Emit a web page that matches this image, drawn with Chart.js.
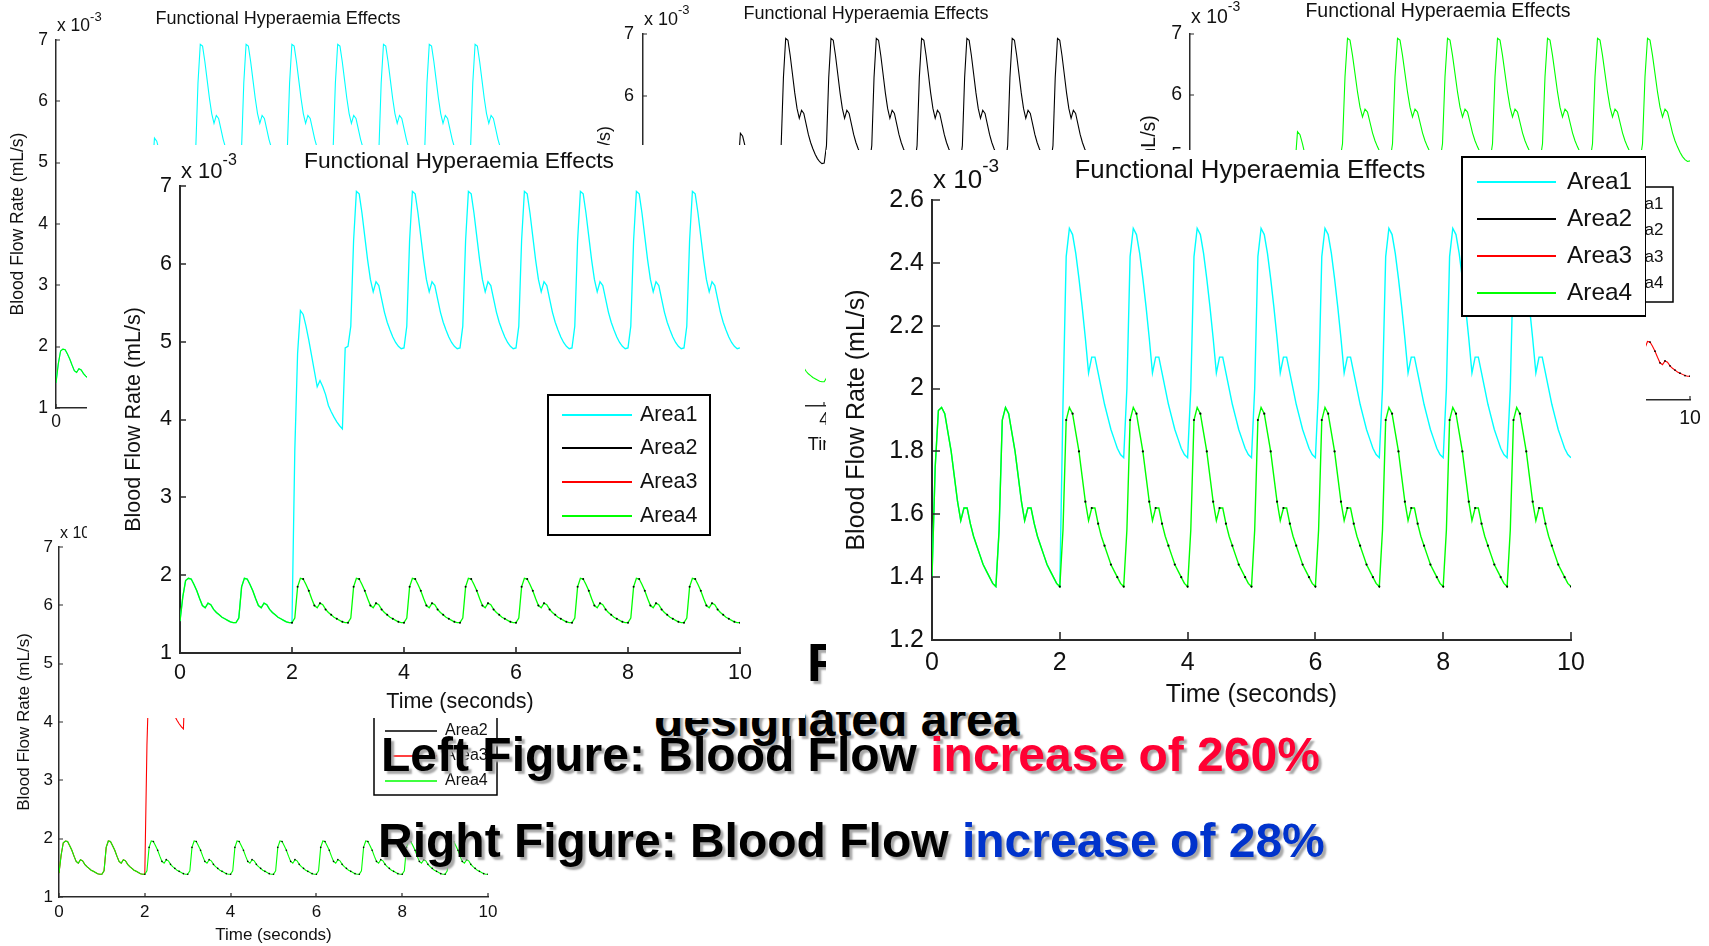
<!DOCTYPE html>
<html>
<head>
<meta charset="utf-8">
<script src="https://cdn.jsdelivr.net/npm/chart.js@4.4.1/dist/chart.umd.min.js"></script>
<style>
  html, body { margin: 0; padding: 0; background: #fff; }
  body { width: 1709px; height: 946px; position: relative; overflow: hidden; font-family: "Liberation Sans", Arial, sans-serif; }
  .panel { position: absolute; overflow: hidden; background: #fff; }
  .panel canvas { position: absolute; left: 0; top: 0; }
  .slide { position: absolute; font-weight: bold; white-space: nowrap; color: #000; line-height: 1; text-shadow: 3px 3px 2px #a8a8a8; }
  .red { color: #ff0033; }
  .blue { color: #0033cc; }
</style>
</head>
<body>
<div class="slide" style="left:807px;top:636px;font-size:53px;z-index:1">F</div>
<div class="slide" style="left:654px;top:696px;font-size:48px;z-index:1">designated area</div>
<div class="slide" style="left:381px;top:731px;font-size:48px;z-index:10">Left Figure: Blood Flow <span class="red">increase of 260%</span></div>
<div class="slide" style="left:378px;top:817px;font-size:48px;z-index:10">Right Figure: Blood Flow <span class="blue">increase of 28%</span></div>

<script>
const FONT = '"Liberation Sans", Arial, Helvetica, sans-serif';
const INK = "#111";
const AXIS = "#2a2a2a";
const TITLE = "Functional Hyperaemia Effects";

const seriesNames = ["Area1", "Area2", "Area3", "Area4"];
const seriesColors = ["#00ffff", "#000000", "#ff0000", "#00ff00"];

const timeTicks = [0, 2, 4, 6, 8, 10];
const leftYTicks = [1, 2, 3, 4, 5, 6, 7];
const rightYTicks = [1.2, 1.4, 1.6, 1.8, 2, 2.2, 2.4, 2.6];

// seconds
const timeSec = [
  0,0.05,0.1,0.15,0.2,0.25,0.3,0.35,0.4,0.45,0.5,0.55,0.6,0.65,0.7,0.75,0.8,0.85,0.9,0.95,
  1,1.05,1.1,1.15,1.2,1.25,1.3,1.35,1.4,1.45,1.5,1.55,1.6,1.65,1.7,1.75,1.8,1.85,1.9,1.95,
  2,2.05,2.1,2.15,2.2,2.25,2.3,2.35,2.4,2.45,2.5,2.55,2.6,2.65,2.7,2.75,2.8,2.85,2.9,2.95,
  3,3.05,3.1,3.15,3.2,3.25,3.3,3.35,3.4,3.45,3.5,3.55,3.6,3.65,3.7,3.75,3.8,3.85,3.9,3.95,
  4,4.05,4.1,4.15,4.2,4.25,4.3,4.35,4.4,4.45,4.5,4.55,4.6,4.65,4.7,4.75,4.8,4.85,4.9,4.95,
  5,5.05,5.1,5.15,5.2,5.25,5.3,5.35,5.4,5.45,5.5,5.55,5.6,5.65,5.7,5.75,5.8,5.85,5.9,5.95,
  6,6.05,6.1,6.15,6.2,6.25,6.3,6.35,6.4,6.45,6.5,6.55,6.6,6.65,6.7,6.75,6.8,6.85,6.9,6.95,
  7,7.05,7.1,7.15,7.2,7.25,7.3,7.35,7.4,7.45,7.5,7.55,7.6,7.65,7.7,7.75,7.8,7.85,7.9,7.95,
  8,8.05,8.1,8.15,8.2,8.25,8.3,8.35,8.4,8.45,8.5,8.55,8.6,8.65,8.7,8.75,8.8,8.85,8.9,8.95,
  9,9.05,9.1,9.15,9.2,9.25,9.3,9.35,9.4,9.45,9.5,9.55,9.6,9.65,9.7,9.75,9.8,9.85,9.9,9.95,
  10
];

// left figure, x 10^-3 mL/s
const leftArea1 = [
  1.41,1.72,1.93,1.96,1.95,1.88,1.80,1.70,1.61,1.58,1.64,1.62,1.56,1.52,1.49,1.46,1.44,1.42,1.40,1.39,
  1.39,1.45,1.85,1.96,1.95,1.88,1.80,1.70,1.61,1.58,1.64,1.62,1.56,1.52,1.49,1.46,1.44,1.42,1.40,1.39,
  1.39,3.60,4.85,5.40,5.35,5.20,5.02,4.82,4.62,4.42,4.50,4.42,4.32,4.18,4.10,4.03,3.97,3.92,3.88,4.92,
  4.94,5.20,6.30,6.93,6.90,6.65,6.35,6.05,5.80,5.64,5.77,5.72,5.55,5.38,5.25,5.15,5.06,4.99,4.94,4.91,
  4.92,5.20,6.30,6.93,6.90,6.65,6.35,6.05,5.80,5.64,5.77,5.72,5.55,5.38,5.25,5.15,5.06,4.99,4.94,4.91,
  4.92,5.20,6.30,6.93,6.90,6.65,6.35,6.05,5.80,5.64,5.77,5.72,5.55,5.38,5.25,5.15,5.06,4.99,4.94,4.91,
  4.92,5.20,6.30,6.93,6.90,6.65,6.35,6.05,5.80,5.64,5.77,5.72,5.55,5.38,5.25,5.15,5.06,4.99,4.94,4.91,
  4.92,5.20,6.30,6.93,6.90,6.65,6.35,6.05,5.80,5.64,5.77,5.72,5.55,5.38,5.25,5.15,5.06,4.99,4.94,4.91,
  4.92,5.20,6.30,6.93,6.90,6.65,6.35,6.05,5.80,5.64,5.77,5.72,5.55,5.38,5.25,5.15,5.06,4.99,4.94,4.91,
  4.92,5.20,6.30,6.93,6.90,6.65,6.35,6.05,5.80,5.64,5.77,5.72,5.55,5.38,5.25,5.15,5.06,4.99,4.94,4.91,
  4.92
];

const leftArea4 = [
  1.41,1.72,1.93,1.96,1.95,1.88,1.80,1.70,1.61,1.58,1.64,1.62,1.56,1.52,1.49,1.46,1.44,1.42,1.40,1.39,
  1.39,1.45,1.85,1.96,1.95,1.88,1.80,1.70,1.61,1.58,1.64,1.62,1.56,1.52,1.49,1.46,1.44,1.42,1.40,1.39,
  1.39,1.45,1.85,1.96,1.95,1.88,1.80,1.70,1.61,1.58,1.64,1.62,1.56,1.52,1.49,1.46,1.44,1.42,1.40,1.39,
  1.39,1.45,1.85,1.96,1.95,1.88,1.80,1.70,1.61,1.58,1.64,1.62,1.56,1.52,1.49,1.46,1.44,1.42,1.40,1.39,
  1.39,1.45,1.85,1.96,1.95,1.88,1.80,1.70,1.61,1.58,1.64,1.62,1.56,1.52,1.49,1.46,1.44,1.42,1.40,1.39,
  1.39,1.45,1.85,1.96,1.95,1.88,1.80,1.70,1.61,1.58,1.64,1.62,1.56,1.52,1.49,1.46,1.44,1.42,1.40,1.39,
  1.39,1.45,1.85,1.96,1.95,1.88,1.80,1.70,1.61,1.58,1.64,1.62,1.56,1.52,1.49,1.46,1.44,1.42,1.40,1.39,
  1.39,1.45,1.85,1.96,1.95,1.88,1.80,1.70,1.61,1.58,1.64,1.62,1.56,1.52,1.49,1.46,1.44,1.42,1.40,1.39,
  1.39,1.45,1.85,1.96,1.95,1.88,1.80,1.70,1.61,1.58,1.64,1.62,1.56,1.52,1.49,1.46,1.44,1.42,1.40,1.39,
  1.39,1.45,1.85,1.96,1.95,1.88,1.80,1.70,1.61,1.58,1.64,1.62,1.56,1.52,1.49,1.46,1.44,1.42,1.40,1.39,
  1.39
];

// right figure, x 10^-3 mL/s
const rightArea1 = [
  1.40,1.75,1.93,1.94,1.92,1.86,1.80,1.72,1.64,1.58,1.62,1.62,1.57,1.53,1.50,1.47,1.44,1.42,1.40,1.38,
  1.37,1.55,1.90,1.94,1.92,1.86,1.80,1.72,1.64,1.58,1.62,1.62,1.57,1.53,1.50,1.47,1.44,1.42,1.40,1.38,
  1.37,1.95,2.42,2.51,2.49,2.43,2.35,2.26,2.16,2.05,2.10,2.10,2.05,2.00,1.95,1.91,1.87,1.84,1.81,1.79,
  1.78,2.00,2.42,2.51,2.49,2.43,2.35,2.26,2.16,2.05,2.10,2.10,2.05,2.00,1.95,1.91,1.87,1.84,1.81,1.79,
  1.78,2.00,2.42,2.51,2.49,2.43,2.35,2.26,2.16,2.05,2.10,2.10,2.05,2.00,1.95,1.91,1.87,1.84,1.81,1.79,
  1.78,2.00,2.42,2.51,2.49,2.43,2.35,2.26,2.16,2.05,2.10,2.10,2.05,2.00,1.95,1.91,1.87,1.84,1.81,1.79,
  1.78,2.00,2.42,2.51,2.49,2.43,2.35,2.26,2.16,2.05,2.10,2.10,2.05,2.00,1.95,1.91,1.87,1.84,1.81,1.79,
  1.78,2.00,2.42,2.51,2.49,2.43,2.35,2.26,2.16,2.05,2.10,2.10,2.05,2.00,1.95,1.91,1.87,1.84,1.81,1.79,
  1.78,2.00,2.42,2.51,2.49,2.43,2.35,2.26,2.16,2.05,2.10,2.10,2.05,2.00,1.95,1.91,1.87,1.84,1.81,1.79,
  1.78,2.00,2.42,2.51,2.49,2.43,2.35,2.26,2.16,2.05,2.10,2.10,2.05,2.00,1.95,1.91,1.87,1.84,1.81,1.79,
  1.78
];

const rightArea4 = [
  1.40,1.75,1.93,1.94,1.92,1.86,1.80,1.72,1.64,1.58,1.62,1.62,1.57,1.53,1.50,1.47,1.44,1.42,1.40,1.38,
  1.37,1.55,1.90,1.94,1.92,1.86,1.80,1.72,1.64,1.58,1.62,1.62,1.57,1.53,1.50,1.47,1.44,1.42,1.40,1.38,
  1.37,1.55,1.90,1.94,1.92,1.86,1.80,1.72,1.64,1.58,1.62,1.62,1.57,1.53,1.50,1.47,1.44,1.42,1.40,1.38,
  1.37,1.55,1.90,1.94,1.92,1.86,1.80,1.72,1.64,1.58,1.62,1.62,1.57,1.53,1.50,1.47,1.44,1.42,1.40,1.38,
  1.37,1.55,1.90,1.94,1.92,1.86,1.80,1.72,1.64,1.58,1.62,1.62,1.57,1.53,1.50,1.47,1.44,1.42,1.40,1.38,
  1.37,1.55,1.90,1.94,1.92,1.86,1.80,1.72,1.64,1.58,1.62,1.62,1.57,1.53,1.50,1.47,1.44,1.42,1.40,1.38,
  1.37,1.55,1.90,1.94,1.92,1.86,1.80,1.72,1.64,1.58,1.62,1.62,1.57,1.53,1.50,1.47,1.44,1.42,1.40,1.38,
  1.37,1.55,1.90,1.94,1.92,1.86,1.80,1.72,1.64,1.58,1.62,1.62,1.57,1.53,1.50,1.47,1.44,1.42,1.40,1.38,
  1.37,1.55,1.90,1.94,1.92,1.86,1.80,1.72,1.64,1.58,1.62,1.62,1.57,1.53,1.50,1.47,1.44,1.42,1.40,1.38,
  1.37,1.55,1.90,1.94,1.92,1.86,1.80,1.72,1.64,1.58,1.62,1.62,1.57,1.53,1.50,1.47,1.44,1.42,1.40,1.38,
  1.37
];

// Area2 only separates from Area4 once the stimulus starts at t = 2 s
const leftArea2 = leftArea4.map((v, i) => (timeSec[i] >= 2 ? v : null));
const rightArea2 = rightArea4.map((v, i) => (timeSec[i] >= 2 ? v : null));

const CYAN = seriesColors[0], BLACK = seriesColors[1], RED = seriesColors[2], GREEN = seriesColors[3];

// draws the MATLAB-style bits: inward ticks, title, exponent and legend box
const matlabDecor = {
  id: "matlabDecor",
  afterDraw(chart, args, o) {
    const ctx = chart.ctx;
    const a = chart.chartArea;
    const xs = chart.scales.x;
    const ys = chart.scales.y;
    const ox = o.origin[0], oy = o.origin[1];
    ctx.save();

    ctx.strokeStyle = AXIS;
    ctx.lineWidth = o.tickWidth;
    ctx.beginPath();
    xs.ticks.forEach((t) => {
      const p = Math.round(xs.getPixelForValue(t.value));
      ctx.moveTo(p, a.bottom);
      ctx.lineTo(p, a.bottom - o.tickLen);
    });
    ys.ticks.forEach((t) => {
      const p = Math.round(ys.getPixelForValue(t.value));
      ctx.moveTo(a.left, p);
      ctx.lineTo(a.left + o.tickLen, p);
    });
    ctx.stroke();

    ctx.fillStyle = INK;
    ctx.textAlign = "center";
    ctx.textBaseline = "middle";
    ctx.font = `${o.titleSize}px ${FONT}`;
    ctx.fillText(TITLE, o.title[0] - ox, o.title[1] - oy);

    ctx.textAlign = "left";
    ctx.textBaseline = "alphabetic";
    ctx.font = `${o.expSize}px ${FONT}`;
    const ex = o.exp[0] - ox, ey = o.exp[1] - oy;
    ctx.fillText("x 10", ex, ey);
    const w = ctx.measureText("x 10").width;
    ctx.font = `${Math.round(o.expSize * 0.72)}px ${FONT}`;
    ctx.fillText("-3", ex + w, ey - o.expSize * 0.6);

    if (o.legend) {
      const lg = o.legend;
      const [l, t, r, b] = lg.box;
      ctx.fillStyle = "#fff";
      ctx.fillRect(l - ox, t - oy, r - l, b - t);
      ctx.strokeStyle = "#000";
      ctx.lineWidth = lg.border;
      ctx.strokeRect(l - ox, t - oy, r - l, b - t);
      ctx.font = `${lg.size}px ${FONT}`;
      ctx.textBaseline = "middle";
      seriesNames.forEach((name, i) => {
        const y = lg.rows[i] - oy;
        ctx.strokeStyle = seriesColors[i];
        ctx.lineWidth = lg.lineW;
        ctx.beginPath();
        ctx.moveTo(lg.line[0] - ox, y);
        ctx.lineTo(lg.line[1] - ox, y);
        ctx.stroke();
        ctx.fillStyle = INK;
        ctx.fillText(name, lg.textX - ox, y);
      });
    }
    ctx.restore();
  }
};

// lines: [data, colour, width, dotted?]  first entry is drawn on top
const figures = [
  { // top-left, behind
    clip: [0, 0, 560, 470], plot: [56, 40, 514, 408], z: 0, yTicks: leftYTicks,
    font: 17.5, titleSize: 18, title: [278, 19], expSize: 17.5, exp: [57, 31],
    yLabelX: 18, yTickRight: 48, xTickY: 422, timeY: 447, tickLen: 4, axisW: 1.5,
    lines: [[leftArea2, BLACK, 0.8, true], [leftArea4, GREEN, 1.1], [leftArea1, CYAN, 1.1]]
  },
  { // top-middle, behind
    clip: [560, 0, 1120, 470], plot: [643, 34, 1096, 406], z: 0, yTicks: leftYTicks,
    font: 18, titleSize: 18, title: [866, 14], expSize: 18, exp: [644, 25],
    yLabelX: 605, yTickRight: 634, xTickY: 420, timeY: 445, tickLen: 4, axisW: 1.5,
    lines: [[leftArea4, GREEN, 1.1], [leftArea1, BLACK, 1.1]]
  },
  { // top-right, behind
    clip: [1120, 0, 1709, 470], plot: [1190, 34, 1690, 400], z: 0, yTicks: leftYTicks,
    font: 19.5, titleSize: 19.5, title: [1438, 12], expSize: 19.5, exp: [1191, 23],
    yLabelX: 1150, yTickRight: 1182, xTickY: 419, timeY: 447, tickLen: 4, axisW: 1.5,
    legend: { box: [1546, 187, 1673, 302], rows: [204, 230, 257, 283], line: [1557, 1612], textX: 1618, size: 17, lineW: 1.5, border: 1.5 },
    lines: [[leftArea2, BLACK, 0.9, true], [leftArea4, RED, 1.1], [leftArea1, GREEN, 1.1]]
  },
  { // bottom-left, behind
    clip: [0, 480, 560, 946], plot: [59, 547, 488, 897], z: 0, yTicks: leftYTicks,
    font: 17, titleSize: 17, title: [273, 520], expSize: 16, exp: [60, 538],
    yLabelX: 24, yTickRight: 53, xTickY: 912, timeY: 935, tickLen: 4, axisW: 1.5,
    legend: { box: [374, 691, 497, 795], rows: [706, 731, 756, 781], line: [385, 437], textX: 445, size: 16, lineW: 1.5, border: 1.5 },
    lines: [[leftArea2, BLACK, 0.8, true], [leftArea4, GREEN, 1.1], [leftArea1, RED, 1.1]]
  },
  { // left figure, front
    clip: [87, 145, 805, 718], plot: [180, 186, 740, 653], z: 5, yTicks: leftYTicks,
    font: 21.5, titleSize: 22.8, title: [459, 162], expSize: 22, exp: [181, 178],
    yLabelX: 134, yTickRight: 172, xTickY: 673, timeY: 702, tickLen: 6, axisW: 2,
    legend: { box: [548, 395, 710, 535], rows: [415, 448, 482, 516], line: [562, 632], textX: 640, size: 21.5, lineW: 1.8, border: 2 },
    lines: [[leftArea2, BLACK, 1.0, true], [leftArea4, GREEN, 1.3], [leftArea1, CYAN, 1.3]]
  },
  { // right figure, front
    clip: [826, 150, 1646, 712], plot: [932, 200, 1571, 640], z: 5, yTicks: rightYTicks,
    font: 25, titleSize: 25.8, title: [1250, 171], expSize: 26, exp: [933, 188],
    yLabelX: 857, yTickRight: 924, xTickY: 663, timeY: 695, tickLen: 8, axisW: 2,
    legend: { box: [1462, 157, 1646, 316], rows: [182, 219, 256, 293], line: [1477, 1556], textX: 1567, size: 24.4, lineW: 2, border: 2 },
    lines: [[rightArea2, BLACK, 1.1, true], [rightArea4, GREEN, 1.4], [rightArea1, CYAN, 1.4]]
  }
];

function toDataset([data, color, width, dotted]) {
  if (dotted) {
    // Area2 sits under Area4; only its sample markers show through
    return {
      data,
      showLine: false,
      pointRadius: (c) => (c.dataIndex % 2 === 0 ? width : 0),
      pointBackgroundColor: color,
      pointBorderWidth: 0
    };
  }
  return { data, borderColor: color, borderWidth: width, pointRadius: 0, tension: 0, fill: false };
}

function buildFigure(f) {
  const [cl, ct, cr, cb] = f.clip;
  const [L, T, R, B] = f.plot;
  const wrap = document.createElement("div");
  wrap.className = "panel";
  wrap.style.left = cl + "px";
  wrap.style.top = ct + "px";
  wrap.style.width = cr - cl + "px";
  wrap.style.height = cb - ct + "px";
  wrap.style.zIndex = f.z;
  const canvas = document.createElement("canvas");
  canvas.width = cr - cl;
  canvas.height = cb - ct;
  wrap.appendChild(canvas);
  document.body.appendChild(wrap);

  const tickFont = { family: FONT, size: f.font };
  const lh = f.font * 0.6;

  new Chart(canvas, {
    type: "line",
    data: { labels: timeSec, datasets: f.lines.map(toDataset) },
    options: {
      responsive: false,
      animation: false,
      devicePixelRatio: 1,
      events: [],
      layout: { padding: { left: 0, top: T - ct, right: cr - R, bottom: 0 } },
      plugins: {
        legend: { display: false },
        tooltip: { enabled: false },
        matlabDecor: {
          origin: [cl, ct], tickLen: f.tickLen, tickWidth: f.axisW * 0.8,
          title: f.title, titleSize: f.titleSize, exp: f.exp, expSize: f.expSize,
          legend: f.legend
        }
      },
      scales: {
        x: {
          type: "linear", min: 0, max: 10,
          afterFit: (s) => { s.height = cb - B; },
          afterBuildTicks: (s) => { s.ticks = timeTicks.map((v) => ({ value: v })); },
          ticks: { padding: f.xTickY - B - lh, color: INK, font: tickFont, maxRotation: 0, autoSkip: false },
          grid: { display: false, drawTicks: false },
          border: { display: true, color: AXIS, width: f.axisW },
          title: { display: true, text: "Time (seconds)", color: INK, font: tickFont, padding: { top: 0, bottom: cb - f.timeY - lh } }
        },
        y: {
          type: "linear", min: f.yTicks[0], max: f.yTicks[f.yTicks.length - 1],
          afterFit: (s) => { s.width = L - cl; },
          afterBuildTicks: (s) => { s.ticks = f.yTicks.map((v) => ({ value: v })); },
          ticks: { padding: L - f.yTickRight, color: INK, font: tickFont, callback: (v) => String(+Number(v).toFixed(1)) },
          grid: { display: false, drawTicks: false },
          border: { display: true, color: AXIS, width: f.axisW },
          title: { display: true, text: "Blood Flow Rate (mL/s)", color: INK, font: tickFont, padding: { top: f.yLabelX - cl - lh, bottom: 0 } }
        }
      }
    },
    plugins: [matlabDecor]
  });
}

figures.forEach(buildFigure);
</script>
</body>
</html>
